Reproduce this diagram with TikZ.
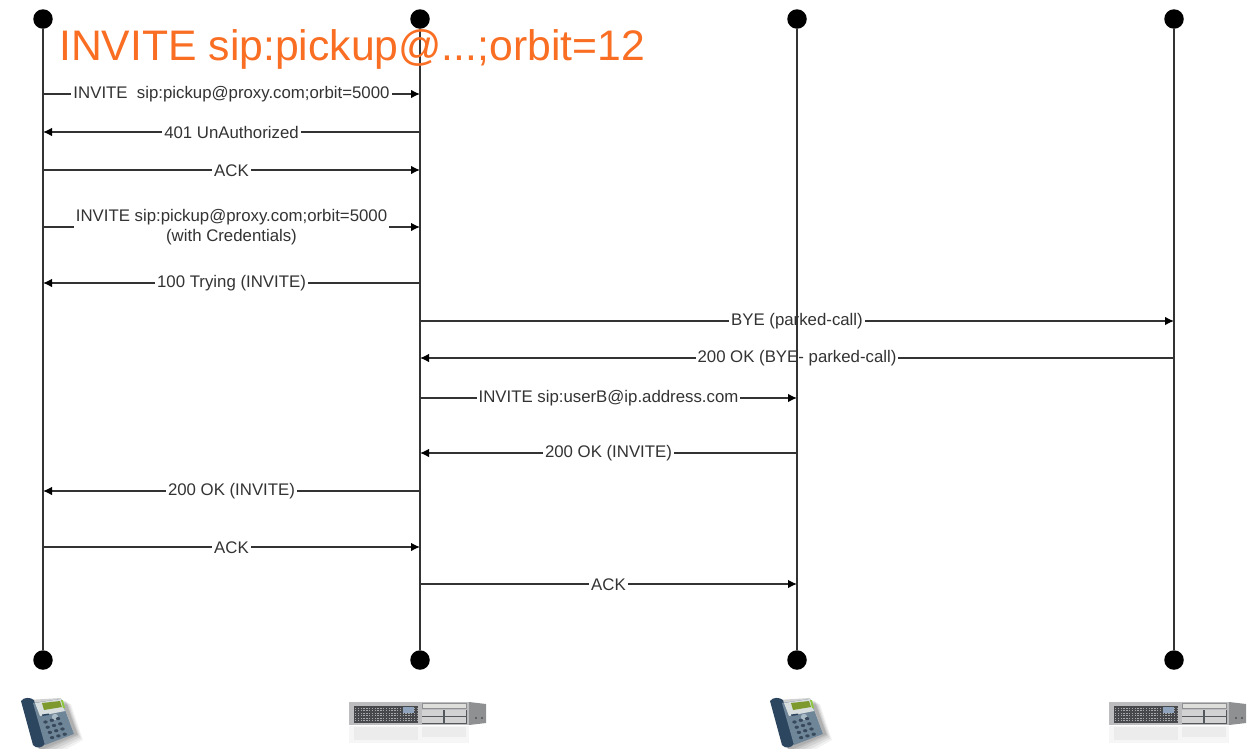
\documentclass[tikz,border=0pt]{standalone}
\usepackage{fontspec}
\setmainfont{Liberation Sans}
\usetikzlibrary{arrows.meta}
\definecolor{ink}{HTML}{333333}
\definecolor{ttl}{HTML}{F96E23}
\definecolor{phset}{HTML}{2D4660}
\definecolor{pbody}{HTML}{6F8598}
\definecolor{pback}{HTML}{D0D0D0}
\definecolor{pface}{HTML}{D9DEDF}
\definecolor{plcd}{HTML}{7E9A2E}
\definecolor{pled}{HTML}{8CC63F}
\definecolor{pnav}{HTML}{A9BCC6}
\definecolor{pkey}{HTML}{37495A}
\definecolor{srefl}{HTML}{F6F6F6}
\definecolor{sreflb}{HTML}{ECECEC}
\definecolor{sface}{HTML}{BDBDBF}
\definecolor{sside}{HTML}{8E9092}
\definecolor{sgrill}{HTML}{46484C}
\definecolor{sgrilld}{HTML}{A8A8AA}
\definecolor{sscr}{HTML}{8FA3BC}
\definecolor{sdrive}{HTML}{DEDEDC}
\definecolor{sbayb}{HTML}{55585C}
\definecolor{sbay}{HTML}{D2D2D2}
\tikzset{
  x=1pt,y=-1pt,
  dot/.style={circle,fill=black,draw=none,minimum size=19.5pt,inner sep=0pt},
  lifeline/.style={draw=ink,line width=1.9pt},
  msg/.style={draw=ink,line width=1.25pt,-{Latex[length=9pt,width=8.5pt,color=black]}},
  lab/.style={fill=white,text=ink,font=\fontsize{16.8}{19}\selectfont,inner xsep=2pt,inner ysep=0.5pt,align=center,yshift=-0.6pt},
  ttlstyle/.style={text=ttl,font=\fontsize{42.7}{48}\selectfont,anchor=base west,inner sep=0pt},
}
% #1 name, #2 x from, #3 x to, #4 y, #5 label
\newcommand{\msgline}[5]{%
  \coordinate (#1s) at (#2,#4);
  \coordinate (#1e) at (#3,#4);
  \draw[msg] (#1s) -- node[lab] (#1l) {#5} (#1e);
}
\newcommand{\phoneicon}[1]{%
\begin{scope}[shift={(#1,0)}]
  \foreach \o/\g in {14/.05,11/.06,8/.07,5/.08,3/.09}{
    \fill[black,opacity=\g] (26+\o*.3,702+\o*.3) -- (66+\o*.5,700+\o*.3) -- (78+\o*.5,733+\o*.5) -- (40+\o*.4,748+\o) -- cycle;
  }
  \fill[pback] (30,700) -- (63,698) -- (76,734) -- (38,747) -- cycle;
  \fill[phset] (23,701) .. controls (26,697) and (32,697) .. (36,700) -- (47,744) .. controls (44,748) and (38,749) .. (35,745) -- cycle;
  \fill[pbody] (35,703) -- (63,699) -- (76,734) -- (47,745) -- cycle;
  \fill[pface] (37,703) -- (63,699) -- (67,711) -- (42,716) -- cycle;
  \fill[plcd] (44,703) -- (62,701) -- (64,707) -- (46,710) -- cycle;
  \fill[pled] (63,700) -- (65,700) -- (67,708) -- (65,708) -- cycle;
  \fill[pnav] (57,717) circle (3.2pt);
  \foreach \r in {0,1,2,3}{\foreach \c in {0,1,2}{
    \fill[pkey] (47.5+\c*6.3+\r*2.2,722+\r*5.2-\c*1.7) ellipse (2.2pt and 1.6pt);
  }}
  \fill[phset] (44,714.5) -- (51,713.5) -- (51,715) -- (44.5,716) -- cycle;
\end{scope}}
\newcommand{\servericon}[1]{%
\begin{scope}[shift={(#1,0)}]
  \fill[srefl] (349,726) rectangle (469,743);
  \fill[sreflb] (354,727) rectangle (418,740);
  \fill[sreflb] (422,727) rectangle (466,737);
  \fill[sface] (349,702) rectangle (469,725);
  \fill[sside] (469,702) -- (486,704) -- (486,723) -- (469,725) -- cycle;
  \fill[sgrill] (354,706) rectangle (418,723);
  \foreach \yy in {708,710.5,713,715.5,718,720.5}{
    \draw[sgrilld,line width=.8pt,dash pattern=on 1.4pt off 1.4pt] (355,\yy) -- (417,\yy);
  }
  \fill[sscr] (403,707) rectangle (414,713);
  \fill[sdrive] (422,703) rectangle (466,708);
  \draw[sside,line width=.6pt] (422,703) rectangle (466,708);
  \fill[sbayb] (421.5,709.5) rectangle (466.5,723.5);
  \foreach \xa/\xb in {422/443,444.5/466}{
    \fill[sbay] (\xa,710.3) rectangle (\xb,716);
    \fill[sbay] (\xa,717.3) rectangle (\xb,723);
  }
  \fill[ink] (476,718) circle (.8pt);
  \fill[ink] (482,718) circle (.8pt);
\end{scope}}
\begin{document}
\begin{tikzpicture}
\useasboundingbox (0,0) rectangle (1255,748);
\fill[white] (0,0) rectangle (1255,748);

% messages (lifelines run over their labels)
\msgline{ma}{43}{420}{94}{INVITE\ \ sip:pickup@proxy.com;orbit=5000}
\msgline{mb}{420}{43}{132}{401 UnAuthorized}
\msgline{mc}{43}{420}{170}{ACK}
\msgline{md}{43}{420}{227}{INVITE sip:pickup@proxy.com;orbit=5000\\[1pt](with Credentials)}
\msgline{me}{420}{43}{283}{100 Trying (INVITE)}
\msgline{mf}{420}{1174}{321}{BYE (parked-call)}
\msgline{mg}{1174}{420}{358}{200 OK (BYE- parked-call)}
\msgline{mh}{420}{797}{398}{INVITE sip:userB@ip.address.com}
\msgline{mi}{797}{420}{453}{200 OK (INVITE)}
\msgline{mj}{420}{43}{491}{200 OK (INVITE)}
\msgline{mk}{43}{420}{547}{ACK}
\msgline{ml}{420}{797}{584}{ACK}

% lifelines
\node[dot] (ta) at (43,19) {};
\node[dot] (tb) at (420,19) {};
\node[dot] (tc) at (797,19) {};
\node[dot] (td) at (1174,19) {};
\node[dot] (ba) at (43,660) {};
\node[dot] (bb) at (420,660) {};
\node[dot] (bc) at (797,660) {};
\node[dot] (bd) at (1174,660) {};
\draw[lifeline] (ta) -- (ba);
\draw[lifeline] (tb) -- (bb);
\draw[lifeline] (tc) -- (bc);
\draw[lifeline] (td) -- (bd);

% title
\node[ttlstyle] (title) at (59,60) {INVITE sip:pickup@...;orbit=12};

% icons
\phoneicon{-2}
\phoneicon{747}
\servericon{0}
\servericon{760}
\end{tikzpicture}
\end{document}
